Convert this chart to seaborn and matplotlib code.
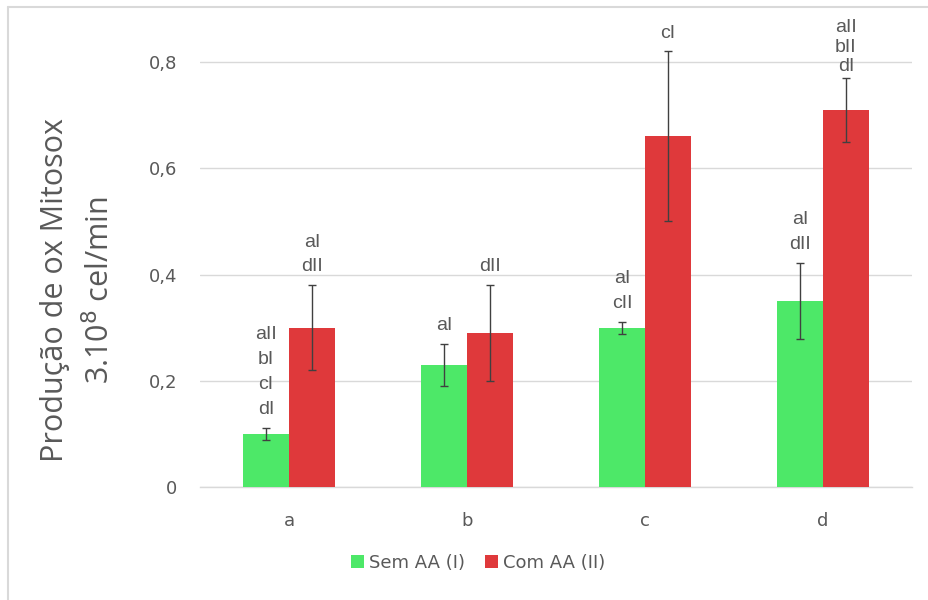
import matplotlib
matplotlib.use('Agg')
import matplotlib.pyplot as plt
from matplotlib.patches import Patch
from matplotlib.lines import Line2D
import seaborn as sns
import pandas as pd

# dados
grupos = ['a', 'b', 'c', 'd']
series = ['Sem AA (I)', 'Com AA (II)']
sem_aa = [0.10, 0.23, 0.30, 0.35]
sem_aa_err = [0.012, 0.04, 0.011, 0.072]
com_aa = [0.30, 0.29, 0.66, 0.71]
com_aa_err = [0.08, 0.09, 0.16, 0.06]
letras_sem = ['aII\nbI\ncI\ndI', 'aI', 'aI\ncII', 'aI\ndII']
letras_com = ['aI\ndII', 'dII', 'cI', 'aII\nbII\ndI']
yticks = [0, 0.2, 0.4, 0.6, 0.8]
ytick_labels = ['0', '0,2', '0,4', '0,6', '0,8']

cores = ['#4de868', '#df393b']
cinza = '#595959'
grade = '#d9d9d9'

df = pd.DataFrame({
    'grupo': grupos * 2,
    'valor': sem_aa + com_aa,
    'serie': [series[0]] * 4 + [series[1]] * 4,
})

sns.set_style('white')
plt.rcParams['font.family'] = ['DejaVu Sans']

fig = plt.figure(figsize=(9.29, 6.0), dpi=100)
ax = fig.add_axes([200 / 929, 113 / 600, 712 / 929, 0.779])

sns.barplot(data=df, x='grupo', y='valor', hue='serie', palette=cores,
            width=0.515, gap=0, saturation=1, errorbar=None,
            linewidth=0, legend=False, ax=ax, zorder=3)

# barras de erro e letras
for cont, erros, letras in zip(ax.containers, [sem_aa_err, com_aa_err],
                               [letras_sem, letras_com]):
    for bar, e, txt in zip(cont, erros, letras):
        xc = bar.get_x() + bar.get_width() / 2
        h = bar.get_height()
        ax.errorbar(xc, h, yerr=e, fmt='none', ecolor='#404040',
                    elinewidth=1, capsize=3, capthick=1, zorder=4)
        # no topo o Excel aperta as linhas
        if h + e > 0.75 and txt.count('\n') > 1:
            ls, off = 1.2, 2
        else:
            ls, off = 1.6, 7
        ax.annotate(txt, xy=(xc, h + e), xytext=(0, off),
                    textcoords='offset points', ha='center', va='bottom',
                    fontsize=14, color=cinza, linespacing=ls,
                    family=['Liberation Sans'], annotation_clip=False)

ax.set_xlim(-0.5, 3.5)
ax.set_ylim(0, 0.88)
ax.set_yticks(yticks)
ax.set_yticklabels(ytick_labels)
ax.yaxis.grid(True, color=grade, linewidth=1, zorder=0)
ax.set_axisbelow(True)
ax.tick_params(axis='both', length=0, labelsize=13, labelcolor=cinza)
ax.tick_params(axis='y', pad=16.5)
ax.tick_params(axis='x', pad=18)
ax.set_xlabel('')
ax.set_ylabel('')
for s in ['top', 'right', 'left']:
    ax.spines[s].set_visible(False)
ax.spines['bottom'].set_color(grade)
ax.spines['bottom'].set_linewidth(1)

fig.text(78 / 929, 1 - 290 / 600, 'Produção de ox Mitosox\n3.10$^8$ cel/min',
         rotation=90, ha='center', va='center', multialignment='center',
         fontsize=22, color=cinza, family=['Open Sans'], linespacing=1.55)

handles = [Patch(facecolor=c, edgecolor='none') for c in cores]
fig.legend(handles, series, loc='center', bbox_to_anchor=(478 / 929, 1 - 563 / 600),
           ncol=2, frameon=False, fontsize=13, labelcolor=cinza,
           handlelength=0.75, handleheight=0.75, handletextpad=0.25,
           columnspacing=1.1)

# moldura do gráfico
fig.add_artist(Line2D([8 / 929, 8 / 929], [0, 1 - 7 / 600], color=grade,
                      linewidth=1.5, transform=fig.transFigure))
fig.add_artist(Line2D([8 / 929, 1], [1 - 7 / 600, 1 - 7 / 600], color=grade,
                      linewidth=1.5, transform=fig.transFigure))

fig.savefig('out.png', dpi=100, facecolor='white')
